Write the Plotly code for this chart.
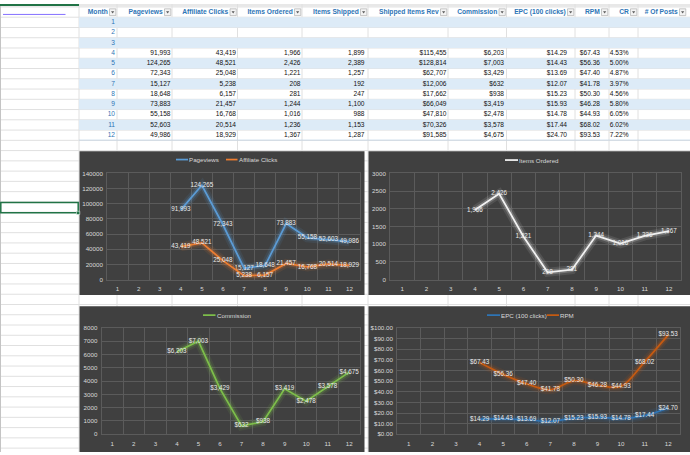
import plotly.graph_objects as go

# ---------------- data ----------------
MONTHS = list(range(1, 13))
HEADERS = ["Month", "Pageviews", "Affiliate Clicks", "Items Ordered", "Items Shipped",
           "Shipped Items Rev", "Commission", "EPC (100 clicks)", "RPM", "CR", "# Of Posts"]
PAGEVIEWS = [None, None, None, 91993, 124265, 72343, 15127, 18648, 73883, 55158, 52603, 49986]
AFFILIATE_CLICKS = [None, None, None, 43419, 48521, 25048, 5238, 6157, 21457, 16768, 20514, 18929]
ITEMS_ORDERED = [None, None, None, 1966, 2426, 1221, 208, 281, 1244, 1016, 1236, 1367]
ITEMS_SHIPPED = [None, None, None, 1899, 2389, 1257, 192, 247, 1100, 988, 1153, 1287]
SHIPPED_REV = [None, None, None, 115455, 128814, 62707, 12006, 17662, 66049, 47810, 70326, 91585]
COMMISSION = [None, None, None, 6203, 7003, 3429, 632, 938, 3419, 2478, 3578, 4675]
EPC = [None, None, None, 14.29, 14.43, 13.69, 12.07, 15.23, 15.93, 14.78, 17.44, 24.70]
RPM = [None, None, None, 67.43, 56.36, 47.40, 41.78, 50.30, 46.28, 44.93, 68.02, 93.53]
CR = [None, None, None, 4.53, 5.00, 4.87, 3.97, 4.56, 5.80, 6.05, 6.02, 7.22]
POSTS = [None] * 12

# ---------------- layout helpers ----------------
W, H = 690, 455
def px(x): return x / W
def py(y): return 1 - y / H

FONT = "Liberation Sans"
BG = "#404040"
GRID = "#5b5b5b"
AX_TXT = "#d9d9d9"
LBL_TXT = "#ebebeb"
SHEET_GRID = "#e0e0e0"
BAND = "#DDEBF7"
HEAD_BLUE = "#2E75B6"

C_PV = "#5B9BD5"
C_AC = "#ED7D31"
C_IO = "#F2F2F2"
C_COMM = "#7DBE4A"
C_EPC = "#2E75B6"
C_RPM = "#C55A11"

def f_int(v): return f"{v:,}"
def f_d0(v): return f"${v:,}"
def f_d2(v): return f"${v:,.2f}"
def f_pct(v): return f"{v:.2f}%"
def f_plain(v): return f"{v}"

def rgba(hexc, a):
    h = hexc.lstrip('#')
    return f"rgba({int(h[0:2],16)},{int(h[2:4],16)},{int(h[4:6],16)},{a})"

fig = go.Figure()
shapes = []
annotations = []

# ---------------- spreadsheet background ----------------
GRID_TOP = 3.0
ROW_H = 10.42
COL_EDGES = [79, 117, 172, 237.5, 302, 368, 448, 506.5, 575, 609, 638, 687]
CELL_PAD = [2, 1.5, 1.5, 1.5, 3.5, 1.5, 2.5, 8, 9, 9.5, 2]

shapes.append(dict(type="rect", xref="paper", yref="paper", x0=0, x1=1, y0=py(2.6), y1=1,
                   fillcolor="#e8e8e8", line=dict(width=0), layer="below"))
for k in range(0, 44):
    y = GRID_TOP + k * ROW_H
    shapes.append(dict(type="line", xref="paper", yref="paper", x0=0, x1=1, y0=py(y), y1=py(y),
                       line=dict(color=SHEET_GRID, width=1), layer="below"))
for e in COL_EDGES[:-1]:
    shapes.append(dict(type="line", xref="paper", yref="paper", x0=px(e), x1=px(e), y0=0, y1=1,
                       line=dict(color=SHEET_GRID, width=1), layer="below"))
shapes.append(dict(type="line", xref="paper", yref="paper", x0=px(0.5), x1=px(0.5), y0=0, y1=1,
                   line=dict(color="#c4c4c4", width=1), layer="below"))
shapes.append(dict(type="line", xref="paper", yref="paper", x0=0, x1=px(79), y0=py(1), y1=py(1),
                   line=dict(color="#217346", width=2), layer="below"))
shapes.append(dict(type="line", xref="paper", yref="paper", x0=px(3), x1=px(65.5), y0=py(10.6), y1=py(10.6),
                   line=dict(color="#8470ff", width=1), layer="below"))
shapes.append(dict(type="rect", xref="paper", yref="paper", x0=px(0.8), x1=px(78.2), y0=py(212), y1=py(201.5),
                   line=dict(color="#217346", width=1.5), layer="above"))
shapes.append(dict(type="rect", xref="paper", yref="paper", x0=px(76.5), x1=px(79.8), y0=py(213.8), y1=py(210.5),
                   fillcolor="#217346", line=dict(color="#ffffff", width=0.5), layer="above"))

# ---------------- table (axis x5 / y5) ----------------
N_ROWS = len(MONTHS) + 1
TABLE_BOTTOM = GRID_TOP + N_ROWS * ROW_H
for r in range(len(MONTHS)):
    if r % 2 == 0:
        shapes.append(dict(type="rect", xref="x5", yref="y5", x0=79, x1=690, y0=r + 1, y1=r + 2,
                           fillcolor=BAND, line=dict(width=0), layer="below"))
shapes.append(dict(type="line", xref="x5", yref="y5", x0=79, x1=690, y0=N_ROWS, y1=N_ROWS,
                   line=dict(color="#9BC2E6", width=1), layer="below"))
for i in range(len(HEADERS)):
    right = COL_EDGES[i + 1]
    shapes.append(dict(type="rect", xref="x5", yref="y5", x0=right - 7.5, x1=right - 1.2, y0=0.18, y1=0.84,
                       fillcolor="#f3f3f3", line=dict(color="#a6a6a6", width=0.6), layer="above"))
    xc = right - 4.35
    shapes.append(dict(type="path", xref="x5", yref="y5",
                       path=f"M {xc-1.6},0.42 L {xc+1.6},0.42 L {xc},0.64 Z",
                       fillcolor="#595959", line=dict(width=0), layer="above"))

fig.add_trace(go.Scatter(
    x=[COL_EDGES[i + 1] - 9.2 for i in range(len(HEADERS))], y=[0.5] * len(HEADERS),
    text=HEADERS, mode="text", textposition="middle left",
    textfont=dict(family=FONT, size=6.7, color=HEAD_BLUE, weight="bold"),
    xaxis="x5", yaxis="y5", hoverinfo="skip", cliponaxis=False))

TABLE_COLS = [
    (MONTHS, f_plain, HEAD_BLUE),
    (PAGEVIEWS, f_int, "#111111"),
    (AFFILIATE_CLICKS, f_int, "#111111"),
    (ITEMS_ORDERED, f_int, "#111111"),
    (ITEMS_SHIPPED, f_int, "#111111"),
    (SHIPPED_REV, f_d0, "#111111"),
    (COMMISSION, f_d0, "#111111"),
    (EPC, f_d2, "#111111"),
    (RPM, f_d2, "#111111"),
    (CR, f_pct, "#111111"),
    (POSTS, f_plain, "#111111"),
]
for i, (vals, fmt, col) in enumerate(TABLE_COLS):
    fig.add_trace(go.Scatter(
        x=[COL_EDGES[i + 1] - CELL_PAD[i]] * len(vals),
        y=[r + 1.5 for r in range(len(vals))],
        text=[fmt(v) if v is not None else "" for v in vals],
        mode="text", textposition="middle left",
        textfont=dict(family=FONT, size=6.6, color=col),
        xaxis="x5", yaxis="y5", hoverinfo="skip", cliponaxis=False))

# ---------------- charts ----------------
CHART_BOXES = [(79.5, 364.5, 149.5, 295.5), (368.5, 690, 149.5, 295.5),
               (79.5, 364.5, 307, 455), (368.5, 690, 307, 455)]
for (x0, x1, y0, y1) in CHART_BOXES:
    shapes.append(dict(type="rect", xref="paper", yref="paper", x0=px(x0), x1=px(x1), y0=py(y1), y1=py(y0),
                       fillcolor=BG, line=dict(width=0), layer="below"))

CATS = [str(m) for m in MONTHS]

def add_series(values, color, fmt, n, shape="linear"):
    xa = "x" if n == 1 else f"x{n}"
    ya = "y" if n == 1 else f"y{n}"
    for w, a in ((9, 0.10), (5, 0.22)):
        fig.add_trace(go.Scatter(x=CATS, y=values, mode="lines",
                                 line=dict(color=rgba(color, a), width=w, shape=shape, smoothing=0.9),
                                 hoverinfo="skip", xaxis=xa, yaxis=ya))
    fig.add_trace(go.Scatter(x=CATS, y=values, mode="lines+text",
                             line=dict(color=color, width=1.75, shape=shape, smoothing=0.9),
                             text=[fmt(v) if v is not None else "" for v in values],
                             textposition="middle center",
                             textfont=dict(family=FONT, size=6.3, color=LBL_TXT),
                             xaxis=xa, yaxis=ya, cliponaxis=False))

add_series(PAGEVIEWS, C_PV, f_int, 1)
add_series(AFFILIATE_CLICKS, C_AC, f_int, 1)
add_series(ITEMS_ORDERED, C_IO, f_int, 2)
add_series(COMMISSION, C_COMM, f_d0, 3)
add_series(EPC, C_EPC, f_d2, 4, "spline")
add_series(RPM, C_RPM, f_d2, 4, "spline")

PLOTS = {
    1: dict(x=(107, 360), y=(172, 280), ymax=140000, dtick=20000, fmt="d"),
    2: dict(x=(390, 681), y=(172, 280), ymax=3000, dtick=500, fmt="d"),
    3: dict(x=(101.5, 360), y=(329, 437), ymax=8000, dtick=1000, fmt="d"),
    4: dict(x=(397, 680), y=(329, 437), ymax=100, dtick=10, fmt="$.2f"),
}
layout_axes = {}
tickfont = dict(family=FONT, size=6.2, color=AX_TXT)
for n, p in PLOTS.items():
    xk = "xaxis" if n == 1 else f"xaxis{n}"
    yk = "yaxis" if n == 1 else f"yaxis{n}"
    layout_axes[xk] = dict(domain=[px(p["x"][0]), px(p["x"][1])], type="category",
                           range=[-0.5, len(CATS) - 0.5], tickson="boundaries",
                           showgrid=True, gridcolor=GRID, gridwidth=0.75,
                           showline=True, mirror=True, linecolor=GRID, linewidth=0.75,
                           zeroline=False, ticks="", tickfont=tickfont, ticklabelstandoff=3,
                           anchor="y" if n == 1 else f"y{n}", fixedrange=True)
    layout_axes[yk] = dict(domain=[py(p["y"][1]), py(p["y"][0])], range=[0, p["ymax"]],
                           tickmode="linear", tick0=0, dtick=p["dtick"], tickformat=p["fmt"],
                           showgrid=True, gridcolor=GRID, gridwidth=0.75,
                           showline=True, mirror=True, linecolor=GRID, linewidth=0.75,
                           zeroline=False, ticks="", tickfont=tickfont, ticklabelstandoff=2,
                           anchor="x" if n == 1 else f"x{n}", fixedrange=True)

layout_axes["xaxis5"] = dict(domain=[px(79), 1], range=[79, 690], visible=False, fixedrange=True)
layout_axes["yaxis5"] = dict(domain=[py(TABLE_BOTTOM), py(GRID_TOP)], range=[N_ROWS, 0],
                             visible=False, fixedrange=True)

# ---------------- custom legends ----------------
LEGENDS = [
    (158, [(176, 188, "Pageviews", C_PV), (226, 237.5, "Affiliate Clicks", C_AC)]),
    (158.5, [(505, 518, "Items Ordered", C_IO)]),
    (316, [(203, 215.5, "Commission", C_COMM)]),
    (316, [(487, 500, "EPC (100 clicks)", C_EPC), (547, 559, "RPM", C_RPM)]),
]
for y, items in LEGENDS:
    for (lx0, lx1, name, color) in items:
        shapes.append(dict(type="line", xref="paper", yref="paper", x0=px(lx0), x1=px(lx1),
                           y0=py(y), y1=py(y), line=dict(color=color, width=1.75), layer="above"))
        annotations.append(dict(xref="paper", yref="paper", x=px(lx1 + 0.3), y=py(y), text=name,
                                showarrow=False, xanchor="left", yanchor="middle",
                                font=dict(family=FONT, size=6.2, color=AX_TXT), borderpad=0))

fig.update_layout(
    width=W, height=H, margin=dict(l=0, r=0, t=0, b=0),
    paper_bgcolor="#ffffff", plot_bgcolor="rgba(0,0,0,0)",
    showlegend=False, shapes=shapes, annotations=annotations,
    font=dict(family=FONT), **layout_axes)

fig.write_html("out.html")
